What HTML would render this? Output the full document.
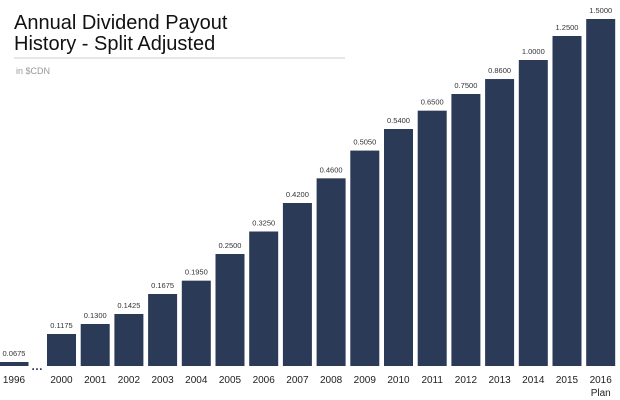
<!DOCTYPE html>
<html><head><meta charset="utf-8"><style>
html,body{margin:0;padding:0;background:#fff;width:620px;height:400px;overflow:hidden;font-family:"Liberation Sans",sans-serif}
</style></head><body>
<svg width="620" height="400">
<text x="14" y="29" font-size="20" fill="#111">Annual Dividend Payout</text>
<text x="14" y="50" font-size="20" fill="#111">History - Split Adjusted</text>
<line x1="14" y1="58" x2="345" y2="58" stroke="#ddd" stroke-width="1.5"/>
<text x="16" y="74" font-size="9" fill="#999">in $CDN</text>
<text x="37" y="370" font-size="12" font-weight="bold" fill="#2b3a57" text-anchor="middle">…</text>
<g id="bars"></g>
</svg>
<script>
const categories=["1996","2000","2001","2002","2003","2004","2005","2006","2007","2008","2009","2010","2011","2012","2013","2014","2015","2016"];
const values=[0.0675,0.1175,0.13,0.1425,0.1675,0.195,0.25,0.325,0.42,0.46,0.505,0.54,0.65,0.75,0.86,1.0,1.25,1.5];
const valueLabels=["0.0675","0.1175","0.1300","0.1425","0.1675","0.1950","0.2500","0.3250","0.4200","0.4600","0.5050","0.5400","0.6500","0.7500","0.8600","1.0000","1.2500","1.5000"];
const subLabels={"2016":"Plan"};
// non-proportional value axis as drawn in the source (piecewise scale)
const scaleDomain=[0,0.0675,0.1175,0.1675,0.25,0.42,0.54,0.75,1.0,1.25,1.5];
const scaleRange=[0,4,32,72,112,163,237,272,306,330,347];
const baseY=366,barW=29;
function yScale(v){
  if(v<=scaleDomain[0])return baseY;
  for(let i=1;i<scaleDomain.length;i++){
    if(v<=scaleDomain[i]){const t=(v-scaleDomain[i-1])/(scaleDomain[i]-scaleDomain[i-1]);return baseY-(scaleRange[i-1]+t*(scaleRange[i]-scaleRange[i-1]));}
  }
  const n=scaleDomain.length-1;const s=(scaleRange[n]-scaleRange[n-1])/(scaleDomain[n]-scaleDomain[n-1]);
  return baseY-(scaleRange[n]+(v-scaleDomain[n])*s);
}
function xCenter(i){return i===0?14:61.5+33.7*(i-1);}
const g=document.getElementById('bars');const NS="http://www.w3.org/2000/svg";
categories.forEach((c,i)=>{
  const cx=xCenter(i),y=yScale(values[i]);
  const r=document.createElementNS(NS,'rect');
  r.setAttribute('x',cx-barW/2);r.setAttribute('y',y);r.setAttribute('width',barW);r.setAttribute('height',baseY-y);r.setAttribute('fill','#2b3a57');
  
  
  g.appendChild(r);
  const t=document.createElementNS(NS,'text');
  t.setAttribute('x',cx);t.setAttribute('y',y-6);t.setAttribute('font-size','7.5');t.setAttribute('fill','#333');t.setAttribute('text-anchor','middle');t.textContent=valueLabels[i];
  
  
  g.appendChild(t);
  const l=document.createElementNS(NS,'text');
  l.setAttribute('x',cx);l.setAttribute('y',383);l.setAttribute('font-size','10');l.setAttribute('fill','#222');l.setAttribute('text-anchor','middle');l.textContent=c;
  
  
  g.appendChild(l);
  if(subLabels[c]){
    const s=document.createElementNS(NS,'text');
    s.setAttribute('x',cx);s.setAttribute('y',396);s.setAttribute('font-size','10');s.setAttribute('fill','#222');s.setAttribute('text-anchor','middle');s.textContent=subLabels[c];
    
    
    g.appendChild(s);
  }
});
</script>
</body></html>
